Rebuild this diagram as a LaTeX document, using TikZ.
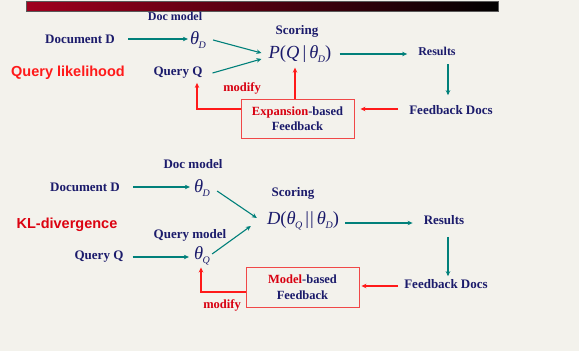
\documentclass[tikz,border=0pt]{standalone}
\usepackage{fontspec}
\setmainfont{Liberation Serif}
\newfontfamily\labelsans{Liberation Sans}
\usetikzlibrary{arrows.meta}
\definecolor{bg}{HTML}{F3F2EC}
\definecolor{navy}{HTML}{1B1B6B}
\definecolor{flowteal}{HTML}{00807A}
\definecolor{fbred}{HTML}{FF1A1A}
\definecolor{boxred}{HTML}{F04848}
\definecolor{wordred}{HTML}{D80010}
\definecolor{barred}{HTML}{A0001E}
\newcommand{\thsub}[1]{\textit{θ}\kern-0.5pt\raisebox{-4pt}{\fontsize{10}{10}\selectfont\textit{#1}}}
\tikzset{
  lbl/.style={text=navy, font=\fontsize{13}{14}\selectfont\bfseries, inner sep=0pt},
  smalllbl/.style={lbl, font=\fontsize{12}{13}\selectfont\bfseries},
  mth/.style={text=navy, font=\fontsize{18.5}{19}\selectfont, inner sep=0pt},
  method/.style={text=fbred, font=\fontsize{14.5}{15}\selectfont\labelsans\bfseries, inner sep=0pt},
  modlbl/.style={text=wordred, font=\fontsize{12.5}{13}\selectfont\bfseries, inner sep=0pt},
  fbbox/.style={draw=boxred, line width=0.9pt, fill=bg, minimum width=113pt, inner sep=0pt,
    align=center, text=navy, font=\fontsize{12.5}{15.5}\selectfont\bfseries},
  flow/.style={draw=flowteal, line width=1.1pt, -{Stealth[length=5pt,width=4.5pt]}},
  fb/.style={draw=fbred, line width=1.1pt, -{Stealth[length=5pt,width=4.5pt]}},
}
\begin{document}
\begin{tikzpicture}[x=1pt,y=-1pt]
\fill[bg] (0,0) rectangle (579,351);
\useasboundingbox (0,0) rectangle (579,351);
% title bar
\shade[left color=barred, right color=black] (26,1) rectangle (498,11);
\draw[gray!70!black, line width=0.6pt] (26,1) rectangle (498,11);

% guide columns for the vertical connectors
\coordinate (colres) at (448,0);
\coordinate (colupA) at (295,0);
\coordinate (colqA) at (197,0);
\coordinate (colqB) at (201,0);
\coordinate (rowfbA) at (0,109);
\coordinate (rowfbB) at (0,286);
\coordinate (rowmodB) at (0,292);
\coordinate (rowresB) at (0,223);

% ---------- query likelihood ----------
\node[smalllbl] (docmodelA) at (175,16) {Doc model};
\node[lbl] (docDA) at (80,39) {Document D};
\node[mth] (thDA) at (198,40) {\thsub{D}};
\node[lbl] (scoringA) at (297,31) {Scoring};
\node[mth] (PA) at (300,54) {\textit{P}(\textit{Q}\,|\,\thsub{D})};
\node[lbl] (queryQA) at (178,73) {Query Q};
\node[method] (qlik) at (68,73) {Query likelihood};
\node[modlbl] (modifyA) at (242,88) {modify};
\node[fbbox, minimum height=39pt] (boxA) at (297.5,118.5)
  {\textcolor{wordred}{Expansion}-based\\Feedback};
\node[smalllbl] (resultsA) at (437,51) {Results};
\node[lbl] (fbdocsA) at (451,110) {Feedback Docs};

\draw[flow, shorten <=13pt, shorten >=2pt] (docDA.east) -- (docDA.east -| thDA.west);
\draw[flow] ([shift={(7,0)}]thDA.east) -- ([shift={(-7,-1)}]PA.west);
\draw[flow] ([shift={(10,0)}]queryQA.east) -- ([shift={(-7,5)}]PA.west);
\draw[flow, shorten <=8pt] (PA.east) -- ([xshift=-11pt]PA.east -| resultsA.west);
\draw[flow] ([yshift=-9pt]resultsA.south -| colres) -- ([yshift=10pt]fbdocsA.north -| colres);
\draw[fb, shorten <=11pt, shorten >=6pt] (fbdocsA.west |- rowfbA) -- (boxA.east |- rowfbA);
\draw[fb, shorten >=5pt] (boxA.north -| colupA) -- (PA.south -| colupA);
\draw[fb, shorten >=4pt] (boxA.west |- rowfbA) -| (queryQA.south -| colqA);

% ---------- KL-divergence ----------
\node[lbl] (docmodelB) at (193,164) {Doc model};
\node[lbl] (docDB) at (85,187) {Document D};
\node[mth] (thDB) at (202,188) {\thsub{D}};
\node[lbl] (scoringB) at (293,193) {Scoring};
\node[mth] (DB) at (303,221) {\textit{D}(\thsub{Q}\,\textbar\kern1pt\textbar\,\thsub{D})};
\node[method, text=wordred!90!fbred] (kl) at (67,225) {KL-divergence};
\node[lbl] (querymodelB) at (190,235) {Query model};
\node[lbl] (queryQB) at (99,257) {Query Q};
\node[mth] (thQB) at (202,256) {\thsub{Q}};
\node[lbl] (resultsB) at (444,220) {Results};
\node[lbl] (fbdocsB) at (446,284) {Feedback Docs};
\node[fbbox, minimum height=40pt] (boxB) at (302.5,287)
  {\textcolor{wordred}{Model}-based\\Feedback};
\node[modlbl] (modifyB) at (222,305) {modify};

\draw[flow, shorten <=13pt, shorten >=4pt] (docDB.east) -- (docDB.east -| thDB.west);
\draw[flow, shorten <=9pt, shorten >=5pt] (queryQB.east) -- (queryQB.east -| thQB.west);
\draw[flow] ([shift={(7,3)}]thDB.east) -- ([shift={(-10,-3)}]DB.west);
\draw[flow] ([shift={(2,-2)}]thQB.east) -- ([shift={(-16,5)}]DB.west);
\draw[flow, shorten <=6pt] (DB.east |- rowresB) -- ([xshift=-11pt]resultsB.west |- rowresB);
\draw[flow] ([yshift=-12pt]resultsB.south -| colres) -- ([yshift=3pt]fbdocsB.north -| colres);
\draw[fb, shorten <=6pt, shorten >=2pt] (fbdocsB.west |- rowfbB) -- (boxB.east |- rowfbB);
\draw[fb, shorten >=2pt] (boxB.west |- rowmodB) -| (thQB.south -| colqB);
\end{tikzpicture}
\end{document}
